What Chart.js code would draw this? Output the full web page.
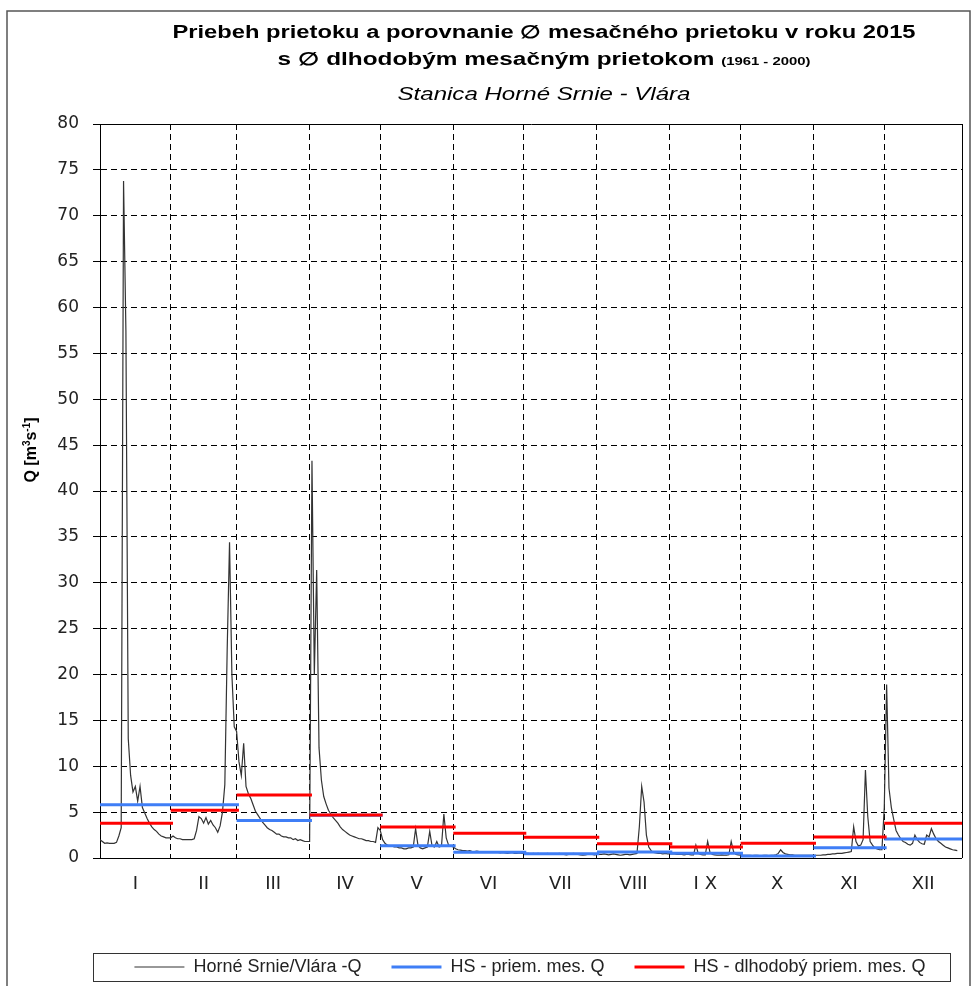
<!DOCTYPE html>
<html lang="sk">
<head>
<meta charset="utf-8">
<title>Horné Srnie - Vlára, prietok 2015</title>
<script src="https://cdn.jsdelivr.net/npm/chart.js@4.4.1/dist/chart.umd.min.js"></script>
<style>
  html, body { margin: 0; padding: 0; background: #fff; }
  #wrap { width: 972px; height: 986px; position: relative; }
</style>
</head>
<body>
<div id="wrap"><canvas id="chart"></canvas></div>
<script>
// ---- data -------------------------------------------------------------
const monthLabels = ['I', 'II', 'III', 'IV', 'V', 'VI', 'VII', 'VIII', 'I X', 'X', 'XI', 'XII'];
const monthDays = [31, 28, 31, 30, 31, 30, 31, 31, 30, 31, 30, 31];

// daily discharge 2015, Horné Srnie / Vlára [m3/s], 1 Jan .. 31 Dec
const qJan = [2.0, 1.8, 1.6, 1.65, 1.6, 1.6, 1.6, 1.7, 2.4, 3.3, 73.8, 57.5, 13.0, 9.0, 7.2, 7.8, 6.2, 7.8, 5.5, 4.9, 4.3, 3.8, 3.4, 3.1, 2.9, 2.6, 2.4, 2.3, 2.2, 2.2, 2.2];
const qFeb = [2.4, 2.2, 2.1, 2.1, 2.0, 2.0, 2.0, 2.0, 2.0, 2.1, 3.0, 4.5, 4.3, 3.8, 4.4, 3.7, 4.1, 3.6, 3.3, 2.8, 3.5, 5.0, 8.0, 22.7, 34.4, 20.0, 14.3, 13.8];
const qMar = [10.5, 9.0, 12.5, 7.8, 7.0, 6.5, 5.8, 5.1, 4.7, 4.3, 3.9, 3.6, 3.3, 3.1, 3.0, 2.8, 2.6, 2.6, 2.4, 2.3, 2.3, 2.2, 2.2, 2.0, 2.1, 1.9, 2.0, 1.9, 1.8, 1.8, 1.8];
const qApr = [43.3, 20.0, 31.4, 12.0, 8.5, 6.7, 5.9, 5.2, 4.8, 4.4, 4.1, 3.8, 3.4, 3.1, 2.9, 2.7, 2.5, 2.4, 2.3, 2.2, 2.1, 2.1, 2.0, 1.9, 1.9, 1.8, 1.8, 1.7, 3.3, 3.0];
const qMay = [2.0, 1.6, 1.4, 1.3, 1.3, 1.2, 1.2, 1.1, 1.1, 1.0, 1.0, 1.1, 1.1, 1.2, 3.2, 1.4, 1.1, 1.0, 1.1, 1.2, 2.9, 1.3, 1.2, 1.8, 1.2, 1.3, 4.8, 2.2, 1.4, 1.3, 1.2];
const qJun = [1.0, 0.9, 0.85, 0.8, 0.8, 0.75, 0.8, 0.7, 0.7, 0.75, 0.7, 0.65, 0.7, 0.6, 0.65, 0.6, 0.6, 0.65, 0.6, 0.55, 0.6, 0.55, 0.5, 0.55, 0.6, 0.5, 0.5, 0.55, 0.5, 0.5];
const qJul = [0.5, 0.5, 0.45, 0.5, 0.45, 0.5, 0.45, 0.4, 0.45, 0.5, 0.45, 0.4, 0.4, 0.45, 0.5, 0.45, 0.4, 0.35, 0.4, 0.45, 0.5, 0.45, 0.4, 0.35, 0.3, 0.35, 0.4, 0.45, 0.4, 0.35, 0.4];
const qAug = [0.4, 0.4, 0.45, 0.4, 0.35, 0.4, 0.45, 0.4, 0.35, 0.3, 0.35, 0.4, 0.4, 0.35, 0.4, 0.45, 0.5, 3.4, 7.8, 6.1, 2.5, 1.2, 0.8, 0.6, 0.55, 0.5, 0.5, 0.45, 0.5, 0.45, 0.45];
const qSep = [0.45, 0.45, 0.4, 0.4, 0.4, 0.35, 0.4, 0.4, 0.35, 0.35, 1.4, 0.5, 0.4, 0.35, 0.35, 1.8, 0.6, 0.4, 0.35, 0.3, 0.3, 0.35, 0.3, 0.3, 0.35, 1.8, 0.7, 0.4, 0.35, 0.3];
const qOct = [0.3, 0.3, 0.3, 0.3, 0.25, 0.3, 0.3, 0.25, 0.25, 0.3, 0.3, 0.25, 0.3, 0.3, 0.35, 0.5, 0.9, 0.6, 0.45, 0.4, 0.35, 0.35, 0.3, 0.3, 0.3, 0.3, 0.3, 0.3, 0.3, 0.3, 0.3];
const qNov = [0.3, 0.3, 0.3, 0.35, 0.35, 0.4, 0.4, 0.45, 0.45, 0.5, 0.5, 0.5, 0.55, 0.6, 0.65, 0.7, 3.4, 1.8, 1.3, 1.4, 2.0, 9.6, 4.5, 1.8, 1.4, 1.1, 1.0, 0.9, 0.9, 5.5];
const qDec = [18.9, 7.6, 5.5, 4.2, 3.0, 2.5, 2.1, 1.8, 1.7, 1.5, 1.4, 1.6, 2.5, 2.0, 1.7, 1.55, 1.5, 2.5, 2.3, 3.2, 2.6, 2.1, 1.8, 1.6, 1.4, 1.2, 1.1, 1.0, 0.9, 0.85, 0.8];

// monthly means [m3/s]
const monthlyMean2015 = [5.8, 5.8, 4.1, 4.65, 1.34, 0.62, 0.47, 0.65, 0.51, 0.22, 1.13, 2.07];
const monthlyMeanLongTerm = [3.78, 5.2, 6.87, 4.68, 3.38, 2.69, 2.26, 1.56, 1.2, 1.6, 2.29, 3.78];

const yMin = 0, yMax = 80, yStep = 5;

// ---- derived tables ----------------------------------------------------
const dailyQ = [].concat(qJan, qFeb, qMar, qApr, qMay, qJun, qJul, qAug, qSep, qOct, qNov, qDec);
const dayAxisMax = 366;

// month edges on the day axis (day index, 0 = 1 Jan)
const monthEdges = [0];
monthDays.reduce((acc, n, i) => {
  const end = acc + n;
  monthEdges.push(i === monthDays.length - 1 ? dayAxisMax : end - 1);
  return end;
}, 0);
const monthCenters = monthLabels.map((_, i) => (monthEdges[i] + monthEdges[i + 1]) / 2);

const dailyPoints = dailyQ.map((q, i) => ({ x: i, y: q }));
// one flat segment per month, each reaching one day into the next month
const stepPoints = values => values.flatMap((v, i) => {
  const end = Math.min(monthEdges[i + 1] + 1, dayAxisMax);
  return [{ x: monthEdges[i], y: v }, { x: end, y: v }, { x: end, y: null }];
});

const xTickValues = [...monthEdges, ...monthCenters].sort((a, b) => a - b);
const isCenter = v => monthCenters.includes(v);

// ---- text --------------------------------------------------------------
const titleMain = 'Priebeh prietoku a porovnanie \u2205 mesačného prietoku v roku 2015';
const titleSecond = 's \u2205 dlhodobým mesačným prietokom';
const titlePeriod = '(1961 - 2000)';
const titleStation = 'Stanica Horné Srnie - Vlára';
// y-axis title pieces: [text, font size, baseline shift]
const yTitleParts = [['Q [m', 16, 0], ['3', 10, -6], ['s', 16, 0], ['-1', 10, -6], [']', 16, 0]];

const legendFontSize = 18;
const legendPadding = 30;

// ---- drawing helpers ---------------------------------------------------
function fitText(c, text, font, cx, baseline, width) {
  c.font = font;
  const w = c.measureText(text).width;
  c.save();
  c.translate(cx, baseline);
  c.scale(width / w, 1);
  c.textAlign = 'center';
  c.fillText(text, 0, 0);
  c.restore();
}

const decorPlugin = {
  id: 'decor',
  beforeDraw(chart) {
    const c = chart.ctx;
    c.save();
    c.fillStyle = '#fff';
    c.fillRect(0, 0, chart.width, chart.height);
    c.restore();
  },
  afterLayout(chart) {
    // legend row sits centred under the plot rather than the whole canvas
    const lg = chart.legend;
    if (lg) { lg.left += 40; lg.right += 40; }
  },
  afterDraw(chart) {
    const c = chart.ctx;
    const area = chart.chartArea;
    const cx = (area.left + area.right) / 2 + 13;
    c.save();
    c.fillStyle = '#000';
    c.textBaseline = 'alphabetic';

    fitText(c, titleMain, 'bold 18px "Liberation Sans"', cx, 38, 743);

    // second line: bold text + smaller period in brackets
    const fA = 'bold 18px "Liberation Sans"', fB = 'bold 11px "Liberation Sans"';
    c.font = fA; const wA = c.measureText(titleSecond).width;
    c.font = fB; const wB = c.measureText(titlePeriod).width;
    const gap = 5, total = wA + gap + wB, target = 533;
    const s = target / total;
    c.save();
    c.translate(cx - target / 2, 65);
    c.scale(s, 1);
    c.textAlign = 'left';
    c.font = fA; c.fillText(titleSecond, 0, 0);
    c.font = fB; c.fillText(titlePeriod, wA + gap, 0);
    c.restore();

    fitText(c, titleStation, 'italic 18px "Liberation Sans"', cx, 100, 293);

    // y-axis title, rotated, with superscripts
    c.save();
    c.translate(36, 450);
    c.rotate(-Math.PI / 2);
    c.textAlign = 'left';
    let tw = 0;
    const fonts = yTitleParts.map(([t, size]) => {
      const f = `bold ${size}px "Liberation Sans"`;
      c.font = f; tw += c.measureText(t).width;
      return f;
    });
    let px = -tw / 2;
    yTitleParts.forEach(([t, , dy], i) => {
      c.font = fonts[i];
      c.fillText(t, px, dy);
      px += c.measureText(t).width;
    });
    c.restore();

    // legend frame
    const lg = chart.legend;
    const midY = lg.top + legendPadding + legendFontSize / 2;
    c.strokeStyle = '#333';
    c.lineWidth = 1;
    c.strokeRect(Math.round(area.left - 7) + 0.5, Math.round(midY - 14) + 0.5,
                 Math.round(area.right - area.left - 5), 28);

    // outer frame
    c.strokeStyle = '#555';
    c.lineWidth = 1.5;
    c.strokeRect(7, 11, chart.width - 9, chart.height + 10);
    c.restore();
  }
};

Chart.defaults.font.family = '"DejaVu Sans", sans-serif';

new Chart(document.getElementById('chart'), {
  type: 'line',
  data: {
    datasets: [
      {
        label: 'Horné Srnie/Vlára -Q',
        data: dailyPoints,
        borderColor: '#333',
        borderWidth: 1.2,
        pointRadius: 0,
        tension: 0,
        order: 3
      },
      {
        label: 'HS - priem. mes. Q',
        data: stepPoints(monthlyMean2015),
        borderColor: '#3f7ef6',
        borderWidth: 3,
        pointRadius: 0,
        spanGaps: false,
        order: 2
      },
      {
        label: 'HS - dlhodobý priem. mes. Q',
        data: stepPoints(monthlyMeanLongTerm),
        borderColor: '#ff0000',
        borderWidth: 3,
        pointRadius: 0,
        spanGaps: false,
        order: 1
      }
    ]
  },
  options: {
    responsive: true,
    maintainAspectRatio: false,
    animation: false,
    events: [],
    layout: { padding: { top: 124, left: 18, right: 10, bottom: 0 } },
    scales: {
      x: {
        type: 'linear',
        min: 0,
        max: dayAxisMax,
        afterBuildTicks: scale => { scale.ticks = xTickValues.map(v => ({ value: v })); },
        afterFit: scale => {
          scale.height = 70;
          scale.paddingLeft = 0;
          scale.paddingRight = 0;
        },
        ticks: {
          autoSkip: false,
          maxRotation: 0,
          padding: 16,
          color: '#222',
          font: { size: 18 },
          callback: v => {
            const i = monthCenters.indexOf(v);
            return i >= 0 ? monthLabels[i] : '';
          }
        },
        grid: {
          drawTicks: false,
          color: '#000',
          lineWidth: ctx => (ctx.tick && (isCenter(ctx.tick.value) || ctx.tick.value === 0)) ? 0 : 1
        },
        border: {
          color: '#000',
          width: 1,
          dash: ctx => (ctx.tick && ctx.tick.value === dayAxisMax) ? [] : [6, 4]
        }
      },
      y: {
        min: yMin,
        max: yMax,
        afterFit: scale => { scale.width = 82; },
        ticks: { stepSize: yStep, padding: 14, color: '#222', font: { size: 17 } },
        grid: { color: '#000', lineWidth: 1, tickLength: 7, tickColor: '#000' },
        border: {
          color: '#000',
          width: 1,
          dash: ctx => (ctx.tick && ctx.tick.value === yMax) ? [] : [6, 4]
        },
        title: { display: false }
      }
    },
    plugins: {
      title: { display: false },
      tooltip: { enabled: false },
      legend: {
        position: 'bottom',
        labels: {
          usePointStyle: true,
          pointStyle: 'line',
          pointStyleWidth: 50,
          padding: legendPadding,
          color: '#222',
          font: { family: '"Liberation Sans"', size: legendFontSize },
          sort: (a, b) => a.datasetIndex - b.datasetIndex
        }
      }
    }
  },
  plugins: [decorPlugin]
});
</script>
</body>
</html>
